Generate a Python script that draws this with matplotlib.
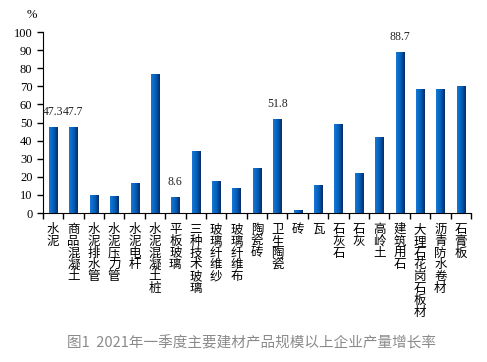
import matplotlib
matplotlib.use("Agg")
import matplotlib.pyplot as plt
import numpy as np

# categories and growth rates (%)
products = ["水泥", "商品混凝土", "水泥排水管", "水泥压力管", "水泥电杆", "水泥混凝土桩",
            "平板玻璃", "三种技术玻璃", "玻璃纤维纱", "玻璃纤维布", "陶瓷砖", "卫生陶瓷",
            "砖", "瓦", "石灰石", "石灰", "高岭土", "建筑用石", "大理石花岗石板材",
            "沥青防水卷材", "石膏板"]
growth = [47.3, 47.7, 10.1, 9.6, 16.7, 76.8, 8.6, 34.4, 17.8, 14.0, 25.0, 51.8,
          1.8, 15.6, 49.3, 22.2, 42.1, 88.7, 68.6, 68.6, 70.2]
labelled = ["水泥", "商品混凝土", "平板玻璃", "卫生陶瓷", "建筑用石"]

plt.rcParams['font.family'] = ['Noto Sans CJK SC', 'DejaVu Sans']

fig = plt.figure(figsize=(4.87, 3.62), dpi=100)
ax = fig.add_axes([0.088, 0.4116, 0.879, 0.5])

x = np.arange(len(products))
bars = ax.bar(x, growth, width=0.4, color="#0a5cb0", zorder=2)

# left-to-right blue gradient inside each bar
grad = np.linspace(0, 1, 64).reshape(1, -1)
cmap = matplotlib.colors.LinearSegmentedColormap.from_list("bl", ["#1a78d4", "#0062be", "#0a2a66"])
for b in bars:
    x0, w, h = b.get_x(), b.get_width(), b.get_height()
    im = ax.imshow(grad, cmap=cmap, aspect="auto", extent=(x0, x0 + w, 0, h), zorder=3)
    im.set_clip_path(b)

for i, (p, v) in enumerate(zip(products, growth)):
    if p in labelled:
        ax.text(i, v + 5, f"{v:.1f}", ha="center", va="bottom", fontsize=8.5,
                family="Liberation Serif", color="#222222")

ax.set_xlim(-0.5, len(products) - 0.5)
ax.set_ylim(0, 100)
ax.set_yticks(range(0, 101, 10))
ax.set_yticklabels([str(t) for t in range(0, 101, 10)], family="Liberation Serif", fontsize=9)
ax.set_xticks(np.arange(-0.5, len(products), 1))
ax.set_xticklabels([])
ax.tick_params(axis="both", direction="out", length=4, width=1, color="black")
ax.spines["top"].set_visible(False)
ax.spines["right"].set_visible(False)
ax.set_aspect("auto")

for i, p in enumerate(products):
    ax.text(i, -5.5, "\n".join(p), ha="center", va="top", fontsize=9,
            linespacing=0.88, transform=ax.transData, clip_on=False)

fig.text(32 / 487, 1 - 15 / 362, "%", ha="center", va="center", fontsize=9,
         family="Liberation Serif")
fig.text(251 / 487, 1 - 343 / 362, "图1  2021年一季度主要建材产品规模以上企业产量增长率",
         ha="center", va="center", fontsize=10.5, color="#8a8a8a")

fig.savefig("out.png", dpi=100)
